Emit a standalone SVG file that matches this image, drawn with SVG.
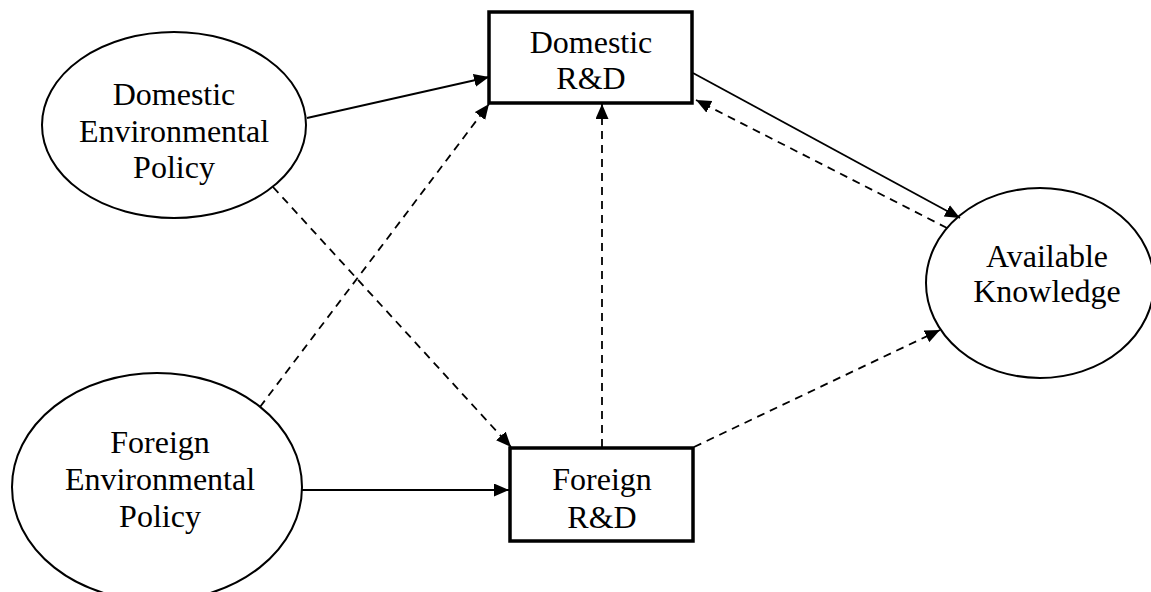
<svg xmlns="http://www.w3.org/2000/svg" width="1151" height="592" viewBox="0 0 1151 592">
<style>
.node{fill:#fff;stroke:#000;stroke-width:2}
.box{fill:#fff;stroke:#000;stroke-width:3.5}
.lbl{font-family:"Liberation Serif","Times New Roman",serif;font-size:32px;fill:#000;text-anchor:middle}
.c{stroke:#000;stroke-width:1.8;fill:none;marker-end:url(#ah)}
.d{stroke-dasharray:8 6}
</style>
<defs>
<marker id="ah" markerUnits="userSpaceOnUse" markerWidth="16" markerHeight="14" refX="15" refY="6.5" orient="auto">
<path d="M0,0 L15,6.5 L0,13 z" fill="#000"/>
</marker>
</defs>
<rect width="1151" height="592" fill="#fff"/>
<g id="dep">
<ellipse class="node" cx="174" cy="125" rx="132" ry="93"/>
<text class="lbl" x="174" y="105">Domestic</text>
<text class="lbl" x="174" y="142">Environmental</text>
<text class="lbl" x="174" y="178">Policy</text>
</g>
<g id="fep">
<ellipse class="node" cx="157" cy="487" rx="145" ry="114"/>
<text class="lbl" x="160" y="453">Foreign</text>
<text class="lbl" x="160" y="490">Environmental</text>
<text class="lbl" x="160" y="527">Policy</text>
</g>
<g id="drd">
<rect class="box" x="489" y="12" width="203" height="91"/>
<text class="lbl" x="591" y="53">Domestic</text>
<text class="lbl" x="591" y="89">R&amp;D</text>
</g>
<g id="frd">
<rect class="box" x="510" y="448" width="183" height="93"/>
<text class="lbl" x="602" y="490">Foreign</text>
<text class="lbl" x="602" y="528">R&amp;D</text>
</g>
<g id="ak">
<ellipse class="node" cx="1040" cy="283" rx="114" ry="95"/>
<text class="lbl" x="1047" y="267">Available</text>
<text class="lbl" x="1047" y="302">Knowledge</text>
</g>
<g id="connectors">
<line class="c" x1="307" y1="118" x2="489" y2="77"/>
<line class="c d" x1="260" y1="407" x2="489" y2="104"/>
<line class="c d" x1="273" y1="187" x2="511" y2="447"/>
<line class="c" x1="302" y1="490" x2="509" y2="490"/>
<line class="c d" x1="602" y1="447" x2="602" y2="104"/>
<line class="c" x1="693" y1="73" x2="960" y2="218"/>
<line class="c d" x1="947" y1="228" x2="696" y2="100"/>
<line class="c d" x1="694" y1="447" x2="940" y2="330"/>
</g>
</svg>
